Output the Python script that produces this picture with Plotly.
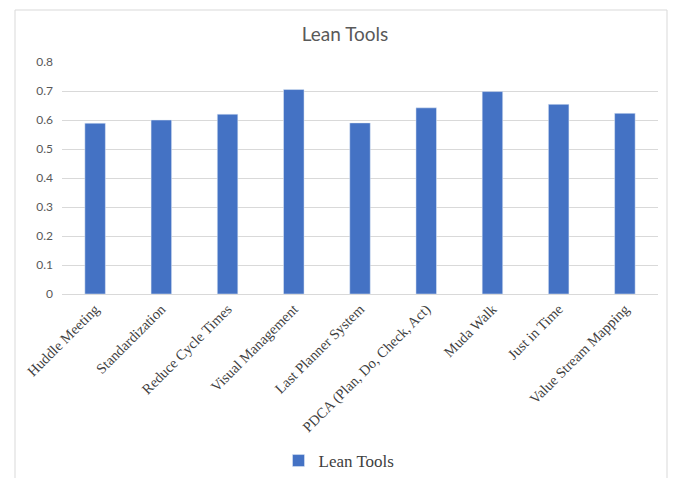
import plotly.graph_objects as go

categories = ["Huddle Meeting", "Standardization", "Reduce Cycle Times", "Visual Management",
              "Last Planner System", "PDCA (Plan, Do, Check, Act)", "Muda Walk", "Just in Time",
              "Value Stream Mapping"]
values = [0.589, 0.600, 0.620, 0.705, 0.590, 0.642, 0.698, 0.654, 0.623]
series_name = "Lean Tools"
y_ticks = [0, 0.1, 0.2, 0.3, 0.4, 0.5, 0.6, 0.7, 0.8]
y_tick_labels = ["0", "0.1", "0.2", "0.3", "0.4", "0.5", "0.6", "0.7", "0.8"]

fig = go.Figure()
fig.add_trace(go.Bar(x=categories, y=values, name=series_name, marker_color="#4472C4",
                     showlegend=True))

W, H = 678, 478
L, R, T, B = 62, 20, 62, 184
pw, ph = W - L - R, H - T - B

def px_x(p):
    return (p - L) / pw

def px_y(p):
    return (H - B - p) / ph

fig.update_layout(
    width=W, height=H,
    margin=dict(l=L, r=R, t=T, b=B, autoexpand=False),
    paper_bgcolor="white", plot_bgcolor="white",
    bargap=0.69,
    title=dict(text="Lean Tools", x=345 / W, xanchor="center", y=1 - 34 / H, yanchor="middle",
               font=dict(family="Lato", size=19, color="#595959")),
    xaxis=dict(tickangle=-45, tickfont=dict(family="Liberation Serif", size=14.5, color="#404040"),
               showline=True, linecolor="#d9d9d9", showgrid=False, ticks="", automargin=False),
    yaxis=dict(range=[0, 0.8], tickvals=y_ticks, ticktext=y_tick_labels,
               tickfont=dict(family="Lato", size=12, color="#595959"),
               showgrid=True, gridcolor="#d9d9d9", zeroline=False, showline=False, ticks="",
               ticklabelstandoff=8, automargin=False),
    legend=dict(orientation="h", xref="container", x=339 / W, xanchor="center",
                yref="container", y=1 - 461 / H, yanchor="middle",
                font=dict(family="Liberation Serif", size=17, color="#404040"),
                itemwidth=30),
    shapes=[dict(type="rect", xref="paper", yref="paper",
                 x0=px_x(15), x1=px_x(667), y0=px_y(520), y1=px_y(10),
                 line=dict(color="#d9d9d9", width=1), fillcolor="rgba(0,0,0,0)")],
)

fig.write_html("out.html")
